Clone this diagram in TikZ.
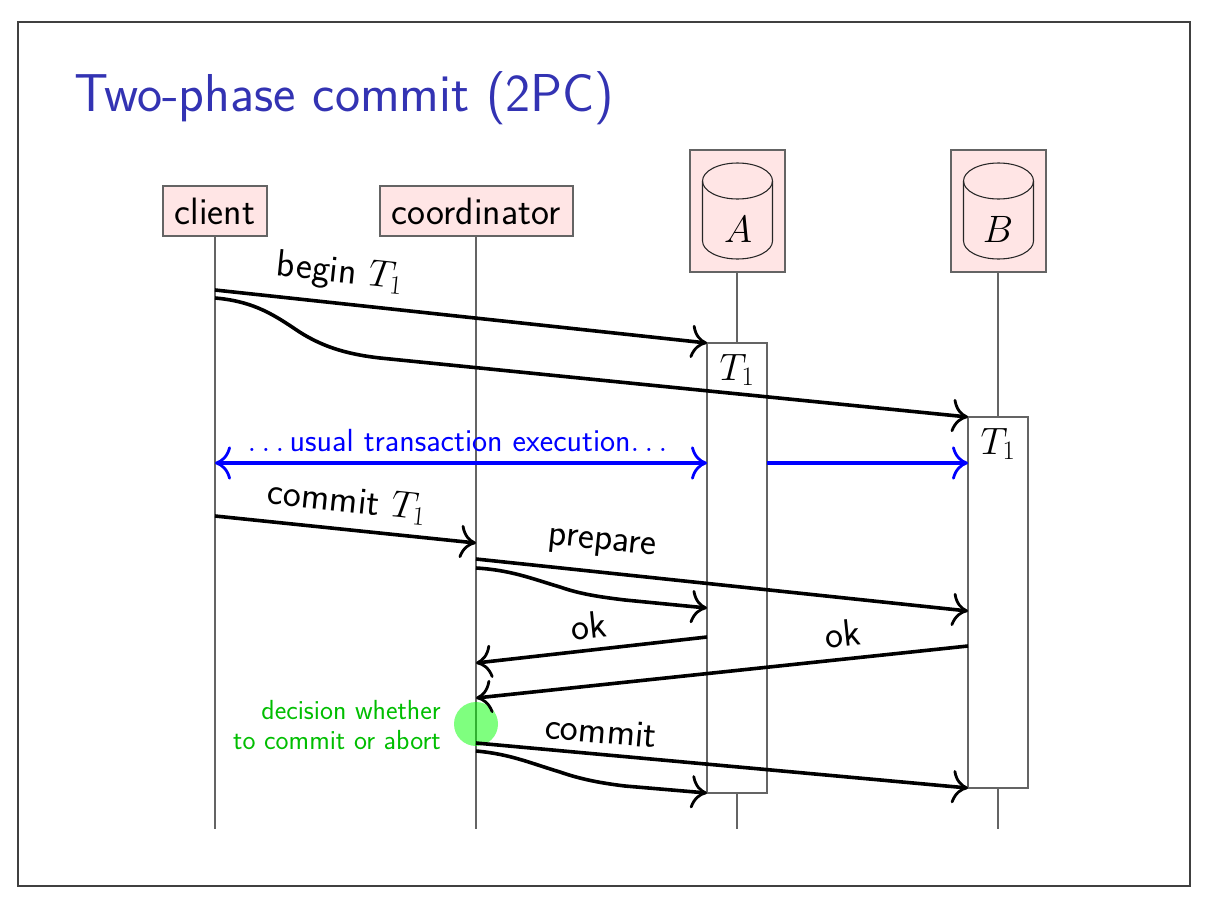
\RequirePackage{fix-cm}
\documentclass[tikz,border=0pt]{standalone}
\usepackage{xcolor}
\usetikzlibrary{arrows.meta,calc}
\renewcommand{\familydefault}{\sfdefault}
\newcommand{\fs}[1]{\fontsize{#1}{#1}\selectfont}
\definecolor{titleblue}{RGB}{51,51,179}
\definecolor{pinkfill}{RGB}{255,229,229}
\definecolor{boxline}{RGB}{100,100,100}
\definecolor{greentxt}{RGB}{0,190,0}
\tikzset{
  x=0.75pt,y=-0.75pt,
  cmtip/.tip={Computer Modern Rightarrow[length=12pt,width=25pt,line width=2.1pt]},
  actor/.style={draw=boxline,fill=pinkfill,line width=1pt,outer sep=0pt,inner sep=0pt},
  life/.style={draw=boxline,line width=0.85pt},
  activation/.style={draw=boxline,fill=white,line width=0.85pt,outer sep=0pt,inner sep=0pt,minimum width=45pt,anchor=north},
  msg/.style={draw=black,line width=2.7pt,-cmtip},
  blueline/.style={draw=blue,line width=2.7pt,-cmtip},
  lbl/.style={inner sep=0pt,font=\fs{28.6}},
  cyl/.style={draw=black!85,line width=0.8pt},
}
\begin{document}
\begin{tikzpicture}
\useasboundingbox (0,0) rectangle (1212,906);
\draw[draw=black!75,line width=1.1pt,fill=white] (18,22) rectangle (1190,886);
\node[inner sep=0pt,anchor=base west,text=titleblue,font=\fs{40}] (title) at (74,111) {Two-phase commit (2PC)};

% actors
\node[actor,minimum width=78pt,minimum height=37.5pt] (client) at (215,211) {};
\node[actor,minimum width=144.75pt,minimum height=37.5pt] (coord) at (476.5,211) {};
\node[lbl] (clientT) at (215,211.5) {client};
\node[lbl] (coordT) at (476,211.5) {coordinator};
\node[actor,minimum width=71.25pt,minimum height=91.5pt] (dbA) at (737.5,211) {};
\node[actor,minimum width=71.25pt,minimum height=91.5pt] (dbB) at (998.5,211) {};

\foreach \n/\c in {A/737.5,B/998.5}{
  \draw[cyl] (\c-35,181) arc[start angle=180,end angle=-180,x radius=35,y radius=18];
  \draw[cyl] (\c-35,181) -- (\c-35,241) arc[start angle=180,end angle=0,x radius=35,y radius=18] -- (\c+35,181);
}
\node[lbl] (labA) at (738,229) {$A$};
\node[lbl] (labB) at (998,229) {$B$};

% life-line ends
\coordinate (endC) at (215,829);
\coordinate (endO) at (476,829);
\coordinate (endA) at (737,829);
\coordinate (endB) at (998,829);
\draw[life] (client.south) -- (endC);
\draw[life] (coord.south -| endO) -- (endO);
\draw[life] (dbA.south -| endA) -- (endA);
\draw[life] (dbB.south -| endB) -- (endB);

% activations
\node[activation,minimum height=337.5pt] (actA) at (737,343) {};
\node[activation,minimum height=278.25pt] (actB) at (998,417) {};
\node[lbl] (tA) at (737,370) {$T_1$};
\node[lbl] (tB) at (998,444) {$T_1$};

% points on the life-lines
\coordinate (c1) at (215,290);
\coordinate (c2) at (215,298);
\coordinate (c3) at (215,463);
\coordinate (c4) at (215,516);
\coordinate (o1) at (476,543);
\coordinate (o2) at (476,559);
\coordinate (o3) at (476,568);
\coordinate (o4) at (476,663);
\coordinate (o5) at (476,698);
\coordinate (o6) at (476,743);
\coordinate (o7) at (476,751);
\coordinate (a1) at (707,463);
\coordinate (a1r) at (767,463);
\coordinate (a2) at (707,608);
\coordinate (a3) at (707,637);
\coordinate (b2) at (968,463);
\coordinate (b3) at (968,611);
\coordinate (b4) at (968,646);
\coordinate (b5) at (968,788);

% decision circle
\node[circle,fill=green,opacity=0.5,minimum size=33pt,inner sep=0pt] (dec) at (476,724) {};

% messages
\draw[msg] (c1) -- (actA.north west);
\draw[msg] (c2) .. controls (250,301) and (270,312) .. (295,329) .. controls (320,346) and (345,354) .. (380,358) -- (actB.north west);
\draw[blueline,cmtip-cmtip] (c3) -- (a1);
\draw[blueline] (a1r) -- (b2);
\draw[msg] (c4) -- (o1);
\draw[msg] (o2) -- (b3);
\draw[msg] (o3) .. controls (510,570) and (530,578) .. (560,587) .. controls (580,594) and (600,597) .. (625,600) -- (a2);
\draw[msg] (a3) -- (o4);
\draw[msg] (b4) -- (o5);
\draw[msg] (o6) -- (b5);
\draw[msg] (o7) .. controls (510,754) and (530,763) .. (560,772) .. controls (580,779) and (600,783) .. (625,786) -- (actA.south west);

% labels
\node[lbl,rotate=-6] (m1) at (340,273) {begin $T_1$};
\node[lbl,rotate=-6] (m2) at (347,502) {commit $T_1$};
\node[lbl,rotate=-6] (m3) at (602,545) {prepare};
\node[lbl,rotate=6] (m4) at (589,626) {ok};
\node[lbl,rotate=6] (m5) at (843,634) {ok};
\node[lbl,rotate=-5] (m6) at (601,731) {commit};
\node[lbl,text=blue,font=\fs{24}] (m7) at (457.5,441) {$\ldots$\,usual transaction execution$\ldots$};
\node[inner sep=0pt,anchor=east,align=right,text=greentxt,font=\fs{20.7}] (m8) at (441,725) {decision whether\\[2pt]to commit or abort};
\end{tikzpicture}
\end{document}
